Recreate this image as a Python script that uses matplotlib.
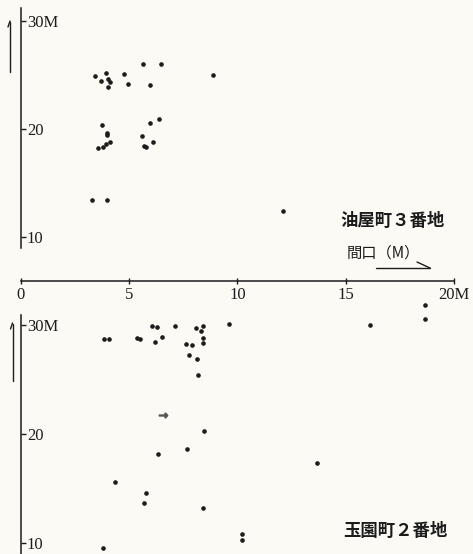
import matplotlib.pyplot as plt
from matplotlib.lines import Line2D

# 間口 (x) と 奥行 (y), 単位 M
aburaya_x = [3.43, 3.71, 3.94, 4.03, 4.12, 4.04, 4.77, 4.95, 5.66, 6.49, 5.98, 8.89,
             3.75, 3.97, 3.97, 3.55, 3.81, 3.94, 4.12, 5.58, 5.98, 6.40, 5.69, 5.80,
             6.09, 3.29, 4.00, 12.09]
aburaya_y = [24.86, 24.43, 25.19, 24.61, 24.33, 23.87, 25.05, 24.18, 25.97, 25.97, 24.03, 25.01,
             20.33, 19.62, 19.44, 18.26, 18.35, 18.60, 18.76, 19.34, 20.57, 20.91, 18.42, 18.33,
             18.82, 13.40, 13.46, 12.44]

tamazono_x = [3.86, 4.09, 5.38, 5.49, 6.07, 6.29, 6.20, 6.52, 7.11, 8.09, 8.31, 8.41,
              7.63, 7.92, 8.40, 8.41, 7.75, 8.14, 8.17, 9.63, 8.47, 6.35, 7.67, 4.35,
              5.77, 5.68, 8.41, 3.78, 10.23, 10.23, 16.13, 18.67, 18.66, 13.69]
tamazono_y = [28.69, 28.69, 28.83, 28.69, 29.94, 29.82, 28.41, 28.87, 29.91, 29.75, 29.45, 29.91,
              28.28, 28.13, 28.83, 28.32, 27.24, 26.85, 25.38, 30.12, 20.23, 18.14, 18.60, 15.60,
              14.59, 13.61, 13.18, 9.48, 10.76, 10.24, 29.97, 31.81, 30.55, 17.32]
# 矢印で印を付けた区画
marked_x = [6.55]
marked_y = [21.70]

x_ticks = [0, 5, 10, 15, 20]
x_labels = ['0', '5', '10', '15', '20M']
y_ticks = [10, 20, 30]
y_labels = ['10', '20', '30M']

W, H = 473, 554
ink = '#1c1c1c'
paper = '#fbfaf4'
serif = ['Liberation Serif', 'DejaVu Serif']
jp = ['Noto Sans CJK JP', 'DejaVu Sans']

fig = plt.figure(figsize=(W / 100, H / 100), dpi=100)
fig.patch.set_facecolor(paper)

axis_y = 281  # pixel row of the shared 間口 axis
top = fig.add_axes([0, (H - axis_y) / H, 1, axis_y / H])
bot = fig.add_axes([0, 0, 1, (H - axis_y) / H])

xlim = (-20.7 / 21.67, (W - 20.7) / 21.67)
for ax in (top, bot):
    ax.set_facecolor('none')
    ax.set_xlim(*xlim)
    for s in ('top', 'right'):
        ax.spines[s].set_visible(False)
    ax.spines['left'].set_position(('data', 0))
    ax.spines['left'].set_color(ink)
    ax.spines['left'].set_linewidth(1.1)
    ax.set_yticks(y_ticks, y_labels, fontfamily=serif, fontsize=12, color=ink)
    ax.tick_params(axis='y', direction='in', length=3.5, width=1, pad=-4.5, colors=ink)
    for lab in ax.get_yticklabels():
        lab.set_horizontalalignment('left')

top.set_ylim(30 - (axis_y - 20.7) / 10.82, 30 + 20.7 / 10.82)
bot.set_ylim(30 - (H - 325) / 10.88, 30 + (325 - axis_y) / 10.88)
top.spines['left'].set_bounds(8.97, 31.17)
bot.spines['left'].set_bounds(bot.get_ylim()[0], 30.92)

top.spines['bottom'].set_bounds(0, 20)
top.spines['bottom'].set_color(ink)
top.spines['bottom'].set_linewidth(1.1)
top.set_xticks(x_ticks, x_labels, fontfamily=serif, fontsize=12, color=ink)
top.tick_params(axis='x', direction='inout', length=5, width=1, pad=2, colors=ink)
bot.spines['bottom'].set_visible(False)
bot.set_xticks([])

top.plot(aburaya_x, aburaya_y, 'o', ms=2.3, color=ink, clip_on=False)
bot.plot(tamazono_x, tamazono_y, 'o', ms=2.3, color=ink, clip_on=False)
bot.plot(marked_x, marked_y, marker=r'$\rightarrow$', ms=6, ls='none', color='#555555')


def px(x, y):
    return x / W, 1 - y / H


def stroke(xs, ys, lw=1.0):
    pts = [px(x, y) for x, y in zip(xs, ys)]
    fig.add_artist(Line2D([p[0] for p in pts], [p[1] for p in pts],
                          transform=fig.transFigure, color=ink, lw=lw,
                          solid_capstyle='round'))


# 奥行 direction arrows beside each vertical axis (half heads)
stroke([10, 10], [72, 22])
stroke([8, 10], [27, 21])
stroke([12.5, 12.5], [381, 324])
stroke([10.5, 12.5], [329, 323])

# 間口 label with its arrow
fig.text(*px(383, 253), '間口（M）', ha='center', va='center',
         fontsize=11, family=jp, color=ink)
stroke([376, 430], [268, 268])
stroke([417, 430], [262, 268])

fig.text(*px(393, 221), '油屋町３番地', ha='center', va='center',
         fontsize=12.5, fontweight='bold', family=jp, color=ink)
fig.text(*px(395, 531), '玉園町２番地', ha='center', va='center',
         fontsize=12.5, fontweight='bold', family=jp, color=ink)

fig.savefig('out.png', dpi=100, facecolor=paper)
